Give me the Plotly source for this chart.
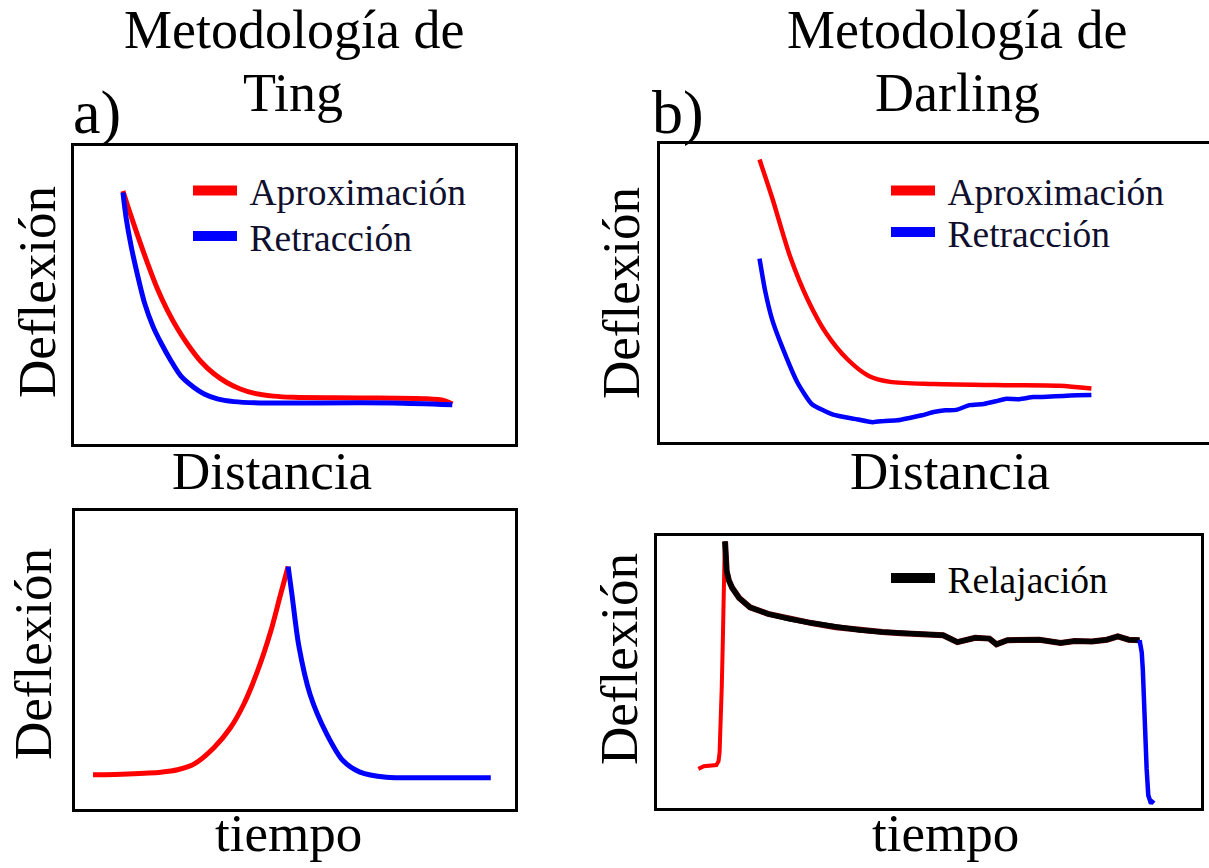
import plotly.graph_objects as go

W, H = 1209, 868
FONT = "Liberation Serif"
RED, BLUE, BLACK = "#ff0000", "#0000ff", "#000000"
KEY_TEXT = "#10102e"

# ---- a) Ting: deflexion vs distance ----
ting_app_x = [11.2, 12.3, 14.6, 16.8, 19.1, 21.3, 23.6, 25.8, 28.8, 31.8, 34.8, 37.8,
              40.8, 45.3, 49.8, 64.9, 80.0, 84.0, 85.8]
ting_app_y = [84.7, 79.6, 69.5, 60.4, 51.6, 44.6, 38.4, 33.4, 27.6, 23.4, 20.4, 18.3,
              16.9, 15.9, 15.5, 15.3, 15.0, 14.4, 13.3]
ting_ret_x = [11.2, 11.9, 13.1, 14.6, 16.1, 18.0, 19.8, 22.1, 24.3, 27.3, 29.6, 32.6,
              36.3, 42.3, 49.8, 72.3, 85.8]
ting_ret_y = [84.2, 75.9, 65.9, 55.9, 47.1, 39.3, 33.8, 27.7, 22.7, 18.8, 16.6, 14.95,
              14.05, 13.6, 13.6, 13.6, 13.0]

# ---- b) Darling: deflexion vs distance ----
darl_app_x = [18.2, 20.5, 23.8, 27.0, 30.3, 34.2, 38.1, 42.0, 49.9, 62.9, 72.7, 78.6]
darl_app_y = [94.6, 81.8, 61.9, 47.5, 36.4, 27.6, 22.0, 20.0, 19.3, 18.9, 18.7, 17.8]
darl_ret_x = [18.2, 19.2, 20.5, 22.5, 25.1, 27.7, 31.6, 35.5, 38.8, 41.0, 43.3, 45.5,
              47.8, 49.9, 52.0, 54.0, 56.4, 59.0, 61.2, 62.9, 65.5, 68.0, 70.5, 73.5, 76.0, 78.6]
darl_ret_y = [61.4, 50.8, 40.9, 30.9, 19.8, 12.6, 9.0, 7.6, 6.5, 6.9, 7.1, 7.9,
              8.8, 9.9, 10.5, 10.6, 12.2, 12.6, 13.5, 14.3, 14.2, 14.9, 15.0, 15.3, 15.5, 15.6]

# ---- a) Ting: deflexion vs time ----
ting_t_app_x = [4.2, 12.1, 19.6, 23.4, 27.2, 31.7, 35.4, 38.4, 41.5, 44.5, 46.7, 48.5]
ting_t_app_y = [11.3, 11.6, 12.2, 13.0, 15.0, 20.5, 27.1, 34.9, 45.9, 59.2, 71.4, 81.2]
ting_t_ret_x = [48.5, 49.4, 50.9, 53.5, 57.3, 61.0, 64.8, 70.8, 79.8, 87.4, 94.5]
ting_t_ret_y = [81.2, 71.4, 54.8, 38.2, 24.9, 16.0, 12.2, 10.5, 10.3, 10.3, 10.3]

# ---- b) Darling: deflexion vs time ----
darl_t_app_x = [7.7, 8.7, 11.0, 11.4, 11.6, 11.8, 12.0, 12.2, 12.3, 12.5, 12.6]
darl_t_app_y = [14.2, 15.2, 15.6, 17.0, 20.3, 30.0, 44.5, 62.0, 80.8, 92.0, 97.8]
darl_t_rel_x = [12.6, 12.7, 12.9, 13.3, 13.9, 15.2, 17.2, 20.5, 24.4, 28.5, 33.0, 37.5, 41.5,
                45.0, 48.5, 52.7, 55.3, 58.6, 61.2, 62.5, 64.5, 67.5, 70.4, 74.3, 76.9,
                80.0, 82.8, 84.8, 86.8, 88.8]
darl_t_rel_y = [97.8, 91.0, 86.9, 83.5, 80.8, 77.0, 73.6, 71.2, 69.3, 67.8, 66.3, 65.2, 64.5,
                64.1, 63.6, 63.3, 60.8, 62.4, 62.1, 60.0, 61.5, 61.4, 61.7, 60.5, 61.2,
                61.0, 61.7, 62.9, 61.7, 61.5]
darl_t_ret_x = [88.8, 89.2, 89.4, 89.7, 90.1, 90.4, 90.9, 91.4]
darl_t_ret_y = [61.5, 57.0, 50.5, 32.4, 14.2, 4.5, 1.5, 2.7]

fig = go.Figure()

def add(x, y, color, width, xa, ya, shape="spline", smoothing=0.8):
    fig.add_trace(go.Scatter(
        x=x, y=y, mode="lines", showlegend=False, hoverinfo="skip",
        line=dict(color=color, width=width, shape=shape, smoothing=smoothing),
        xaxis=xa, yaxis=ya))

# Ting, distance
add(ting_app_x, ting_app_y, RED, 5, "x", "y")
add(ting_ret_x, ting_ret_y, BLUE, 5, "x", "y")
# Darling, distance
add(darl_app_x, darl_app_y, RED, 4.5, "x2", "y2")
add(darl_ret_x, darl_ret_y, BLUE, 4.5, "x2", "y2", smoothing=0.5)
# Ting, time
add(ting_t_app_x, ting_t_app_y, RED, 5, "x3", "y3")
add(ting_t_ret_x, ting_t_ret_y, BLUE, 5, "x3", "y3")
# Darling, time
add(darl_t_app_x, darl_t_app_y, RED, 4, "x4", "y4", shape="linear")
add(darl_t_rel_x, darl_t_rel_y, "#5a0000", 6, "x4", "y4", shape="linear")
add(darl_t_rel_x, darl_t_rel_y, BLACK, 5, "x4", "y4", shape="linear")
add(darl_t_ret_x, darl_t_ret_y, BLUE, 4.5, "x4", "y4", shape="linear")

# legend keys (one legend per entry so each row sits where it should)
def key(name, color, xa, ya, legend):
    fig.add_trace(go.Scatter(
        x=[None], y=[None], mode="lines", name="\u2009" + name, legend=legend,
        line=dict(color=color, width=11), xaxis=xa, yaxis=ya))

key("Aproximación", RED, "x", "y", "legend")
key("Retracción", BLUE, "x", "y", "legend2")
key("Aproximación", RED, "x2", "y2", "legend3")
key("Retracción", BLUE, "x2", "y2", "legend4")
key("Relajación", BLACK, "x4", "y4", "legend5")

def px(v):
    return v / W

def py(v):
    return 1 - v / H

def leg(x0, yc, color=KEY_TEXT):
    return dict(x=px(x0), y=py(yc), xanchor="left", yanchor="middle",
                bgcolor="rgba(0,0,0,0)", borderwidth=0, itemwidth=44,
                font=dict(family=FONT, size=37.5, color=color),
                tracegroupgap=0)

ax = dict(showline=True, linewidth=3, linecolor="black", mirror=True,
          showticklabels=False, ticks="", showgrid=False, zeroline=False,
          fixedrange=True)

layout = dict(
    width=W, height=H, margin=dict(l=0, r=0, t=0, b=0),
    paper_bgcolor="white", plot_bgcolor="white",
    font=dict(family=FONT, color="black"),
    xaxis=dict(ax, domain=[px(73.5), px(515)], range=[0, 100], anchor="y"),
    yaxis=dict(ax, domain=[py(443.5), py(145.5)], range=[0, 100], anchor="x"),
    xaxis2=dict(ax, domain=[px(659.5), 1.0], range=[0, 100], anchor="y2"),
    yaxis2=dict(ax, domain=[py(441.5), py(143.5)], range=[0, 100], anchor="x2", mirror=False),
    xaxis3=dict(ax, domain=[px(74.5), px(515)], range=[0, 100], anchor="y3"),
    yaxis3=dict(ax, domain=[py(808.5), py(510.5)], range=[0, 100], anchor="x3"),
    xaxis4=dict(ax, domain=[px(656.5), px(1200.5)], range=[0, 100], anchor="y4"),
    yaxis4=dict(ax, domain=[py(807.5), py(535.5)], range=[0, 100], anchor="x4"),
    legend=leg(188, 190.5),
    legend2=leg(188, 236),
    legend3=leg(886, 190.5),
    legend4=leg(886, 232),
    legend5=leg(886, 578, "black"),
)
fig.update_layout(**layout)

def text(s, x, y, size, angle=0):
    fig.add_annotation(text=s, x=px(x), y=py(y), xref="paper", yref="paper",
                       xanchor="center", yanchor="middle", showarrow=False,
                       textangle=angle, font=dict(family=FONT, size=size, color="black"))

# column titles
text("Metodología de", 293.5, 30, 54)
text("Ting", 293, 93, 54)
text("Metodología de", 957, 30, 54)
text("Darling", 957, 93, 54)
# panel letters
text("a)", 97, 113, 62)
text("b)", 678, 113, 62)
# axis titles
text("Distancia", 272, 471, 53)
text("Distancia", 950, 471, 53)
text("tiempo", 288, 833, 53)
text("tiempo", 946, 833, 53)
text("Deflexión", 37, 292, 53, -90)
text("Deflexión", 621, 293, 53, -90)
text("Deflexión", 33, 654, 53, -90)
text("Deflexión", 619, 659, 53, -90)

fig.write_html("out.html")
